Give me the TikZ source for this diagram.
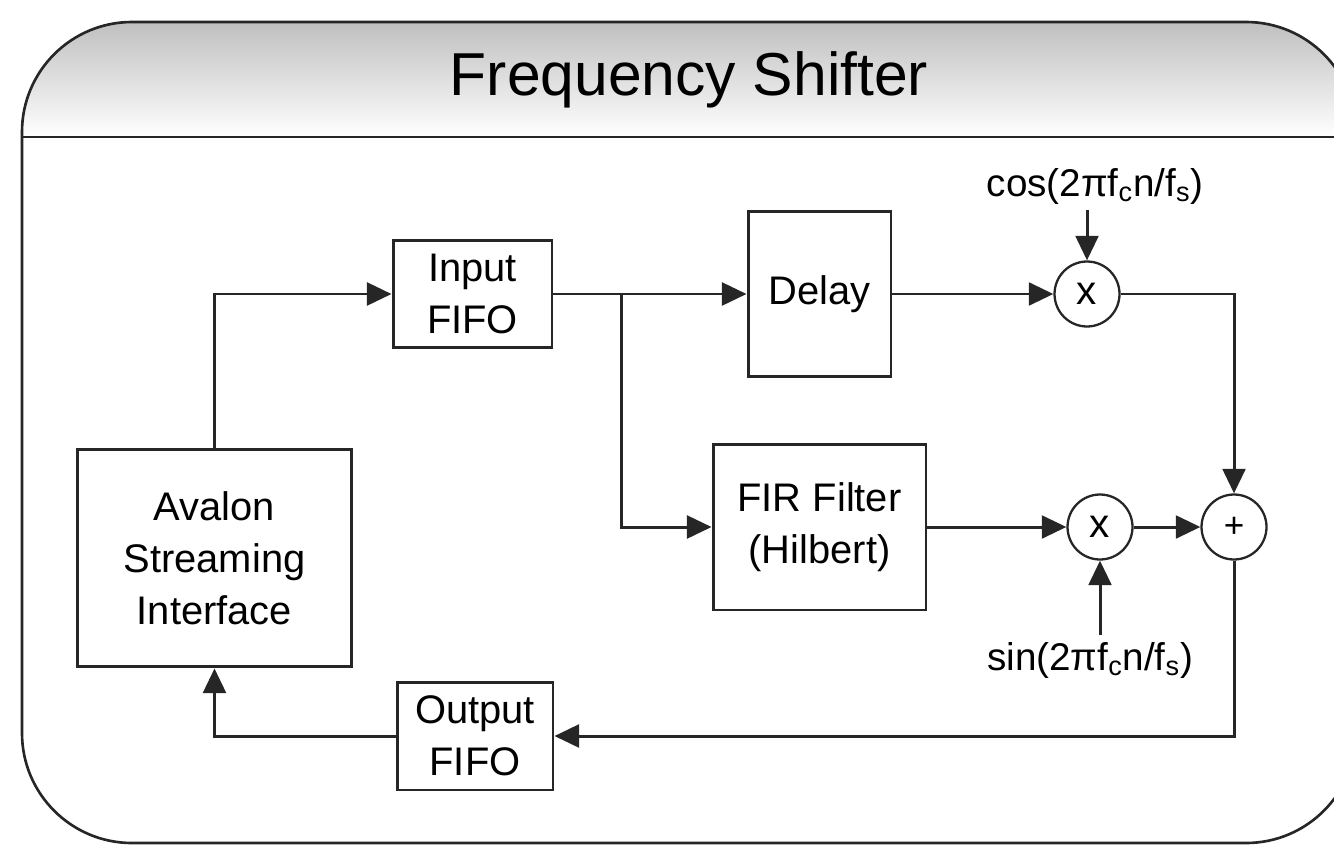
\documentclass[tikz,border=0pt]{standalone}
\usepackage{fontspec}
\setmainfont{Liberation Sans}
\usetikzlibrary{arrows.meta,calc}
\begin{document}
\begin{tikzpicture}[x=0.02cm,y=-0.02cm,
  line/.style={line width=1.7pt, draw=black!85},
  arr/.style={line, -{Triangle[length=14pt,width=13pt]}},
  box/.style={draw=black!85, line width=1.7pt, fill=white, inner sep=0pt, align=center,
    font=\fontsize{22.7}{29.5}\selectfont},
  op/.style={draw=black!85, line width=1.3pt, circle, fill=white, inner sep=0pt, minimum size=1.3cm},
  lbl/.style={inner sep=1pt, font=\fontsize{22}{26}\selectfont}]
\useasboundingbox (0,0) rectangle (1334,845);
% frame
\begin{scope}
  \clip[rounded corners=2.2cm] (22,22) rectangle (1356,843);
  \shade[top color=gray!50, bottom color=white] (22,22) rectangle (1356,137);
\end{scope}
\draw[line width=1.5pt, draw=black!85, rounded corners=2.2cm] (22,22) rectangle (1356,843);
\draw[line width=1.7pt, draw=black!85] (22,137) -- (1356,137);
\node[font=\fontsize{34.5}{40}\selectfont] (title) at (689,80) {Frequency Shifter};
% blocks
\node[box, minimum width=3.18cm, minimum height=2.14cm] (infifo) at (472.5,294) {Input\\FIFO};
\node[box, minimum width=2.86cm, minimum height=3.32cm] (delay) at (819.5,294) {Delay};
\node[box, minimum width=4.26cm, minimum height=3.32cm] (fir) at (819.5,527) {FIR Filter\\(Hilbert)};
\node[box, minimum width=5.5cm, minimum height=4.36cm] (avalon) at (214.5,558) {Avalon\\Streaming\\Interface};
\node[box, minimum width=3.12cm, minimum height=2.16cm] (outfifo) at (475,736) {Output\\FIFO};
\node[op, font=\fontsize{23}{23}\selectfont] (m1) at (1087,294) {x};
\node[op, font=\fontsize{23}{23}\selectfont] (m2) at (1100,527) {x};
\node[op, font=\fontsize{20}{20}\selectfont] (sum) at (1234,527) {+};
\node[lbl] (cos) at (1095,186) {cos(2πf\textsubscript{c}n/f\textsubscript{s})};
\node[lbl] (sin) at (1090,660) {sin(2πf\textsubscript{c}n/f\textsubscript{s})};
\coordinate (br) at (621,294);
% connectors
\draw[arr] (avalon.north) |- (infifo.west);
\draw[arr] (infifo.east) -- (delay.west);
\draw[arr] (br) |- (fir.west);
\draw[arr] (delay.east) -- (m1.west);
\draw[arr] (m1.north |- 0,210) -- (m1.north);
\draw[arr] (m1.east) -| (sum.north);
\draw[arr] (fir.east) -- (m2.west);
\draw[arr] (m2.east) -- (sum.west);
\draw[arr] (m2.south |- 0,635) -- (m2.south);
\draw[arr] (sum.south) |- (outfifo.east);
\draw[arr] (outfifo.west) -| (avalon.south);
\end{tikzpicture}
\end{document}
